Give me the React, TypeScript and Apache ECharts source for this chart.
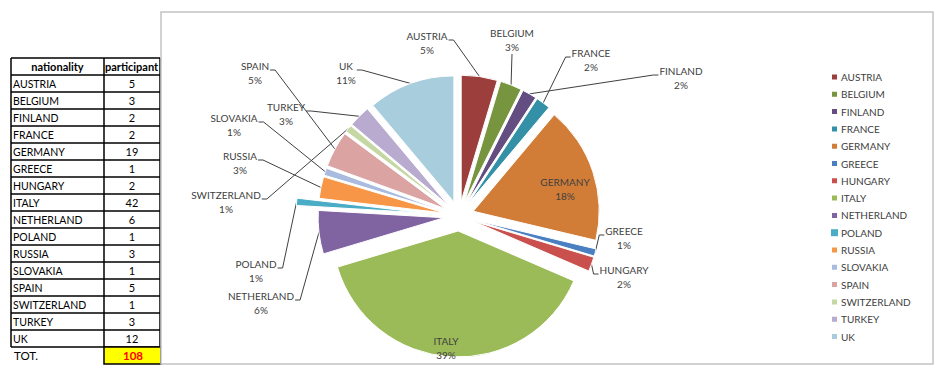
import React, { useEffect, useRef } from "react";
import * as echarts from "echarts";

const nationalities = ["AUSTRIA", "BELGIUM", "FINLAND", "FRANCE", "GERMANY", "GREECE", "HUNGARY", "ITALY", "NETHERLAND", "POLAND", "RUSSIA", "SLOVAKIA", "SPAIN", "SWITZERLAND", "TURKEY", "UK"];
const participants = [5, 3, 2, 2, 19, 1, 2, 42, 6, 1, 3, 1, 5, 1, 3, 12];
const sliceColors = ["#9C3F3C", "#77953F", "#644D80", "#3490A6", "#D27D37", "#4A7FC1", "#C9504D", "#9BBB59", "#8064A2", "#4BACC6", "#F79646", "#A9BCE0", "#DBA4A3", "#C5D8A4", "#B9AACF", "#A8CDDD"];
const insideLabels = ["GERMANY", "ITALY"];
// label anchor points (label layout only)
const labelAnchors: number[][] = [
  [427, 43], [512, 40], [681, 78], [591, 60], [565, 189], [624, 238], [624, 277], [446, 348],
  [261, 303], [256, 271], [240, 163], [234, 125], [255, 73], [226, 202], [286, 114], [346, 73],
];

const FONT = "Lato";
const CX = 459, CY = 216, R = 126, OFF = 15;
const extraExplode: Record<string, number> = { POLAND: 37 };

export default function App() {
  const ref = useRef<HTMLDivElement>(null);
  useEffect(() => {
    if (!ref.current) return;
    const chart = echarts.init(ref.current, undefined, { renderer: "svg" });
    const total = participants.reduce((a, b) => a + b, 0);
    const cum: number[] = [];
    let acc = 0;
    participants.forEach((v) => { cum.push(acc); acc += v; });

    // table graphics
    const tX0 = 11, tX1 = 104, tX2 = 160, tY0 = 58, rowH = 17;
    const g: any[] = [];
    const nRows = nationalities.length + 1;
    const tY1 = tY0 + nRows * rowH;
    for (let r = 0; r <= nRows; r++) {
      g.push({ type: "line", shape: { x1: tX0, y1: tY0 + r * rowH, x2: tX2, y2: tY0 + r * rowH }, style: { stroke: "#000", lineWidth: 1.5 } });
    }
    [tX0, tX1, tX2].forEach((x) => g.push({ type: "line", shape: { x1: x, y1: tY0, x2: x, y2: tY1 }, style: { stroke: "#000", lineWidth: 1.5 } }));
    g.push({ type: "text", style: { x: (tX0 + tX1) / 2, y: tY0 + rowH / 2, text: "nationality", font: `bold 11px ${FONT}`, fill: "#000", align: "center", verticalAlign: "middle" } });
    g.push({ type: "text", style: { x: tX1 + 1, y: tY0 + rowH / 2, text: "participant", font: `bold 11px ${FONT}`, fill: "#000", align: "left", verticalAlign: "middle" } });
    nationalities.forEach((n, i) => {
      const yc = tY0 + (i + 1) * rowH + rowH / 2;
      g.push({ type: "text", style: { x: tX0 + 2, y: yc, text: n, font: `10.5px ${FONT}`, fill: "#000", align: "left", verticalAlign: "middle" } });
      g.push({ type: "text", style: { x: (tX1 + tX2) / 2, y: yc, text: String(participants[i]), font: `11px ${FONT}`, fill: "#000", align: "center", verticalAlign: "middle" } });
    });
    g.push({ type: "rect", shape: { x: tX1, y: tY1, width: tX2 - tX1 + 1, height: rowH }, style: { fill: "#FFFF00", stroke: "#000", lineWidth: 1.5 } });
    g.push({ type: "text", style: { x: tX0 + 3, y: tY1 + rowH / 2, text: "TOT.", font: `11.5px ${FONT}`, fill: "#000", align: "left", verticalAlign: "middle" } });
    g.push({ type: "text", style: { x: (tX1 + tX2) / 2 + 1, y: tY1 + rowH / 2, text: String(total), font: `bold 11.5px ${FONT}`, fill: "#FF0000", align: "center", verticalAlign: "middle" } });
    // chart area box
    g.push({ type: "rect", shape: { x: 161, y: 12, width: 772, height: 352 }, style: { fill: "#fff", stroke: "#c4c4c4", lineWidth: 1.5 } });

    const hidden = { color: "rgba(0,0,0,0)", borderWidth: 0 };
    const sliceData = nationalities.map((n, i) => ({
      name: n,
      value: participants[i],
      selected: true,
      itemStyle: extraExplode[n] ? hidden : { color: sliceColors[i] },
    }));
    const labelData = nationalities.map((n, i) => ({
      name: n,
      value: participants[i],
      labelLine: { show: !insideLabels.includes(n) },
    }));
    const baseSlice = {
      type: "pie",
      center: [CX, CY],
      radius: R,
      startAngle: 90,
      clockwise: true,
      selectedMode: "multiple",
      itemStyle: { borderColor: "#fff", borderWidth: 1 },
      emphasis: { disabled: true },
      label: { show: false },
      labelLine: { show: false },
    };
    const extraSeries = Object.keys(extraExplode).map((key) => ({
      ...baseSlice,
      name: "explode-" + key,
      selectedOffset: extraExplode[key],
      data: nationalities.map((n, i) => ({
        name: n,
        value: participants[i],
        selected: n === key,
        itemStyle: n === key ? { color: sliceColors[i] } : hidden,
      })),
    }));

    chart.setOption({
      animation: false,
      graphic: g,
      legend: {
        orient: "vertical",
        left: 825,
        top: 67,
        itemWidth: 7,
        itemHeight: 7,
        itemGap: 7.3,
        icon: "rect",
        selectedMode: false,
        textStyle: { fontFamily: FONT, fontSize: 10, color: "#404040", lineHeight: 10, padding: [0, 0, 0, -2] },
        data: nationalities.map((n, i) => ({ name: n, itemStyle: { color: sliceColors[i] } })),
      },
      series: [
        { ...baseSlice, name: "slices", selectedOffset: OFF, data: sliceData },
        ...extraSeries,
        {
          type: "pie",
          name: "labels",
          center: [CX, CY],
          radius: R,
          startAngle: 90,
          clockwise: true,
          silent: true,
          selectedMode: false,
          avoidLabelOverlap: false,
          emphasis: { disabled: true },
          itemStyle: { color: "rgba(0,0,0,0)", borderWidth: 0 },
          label: {
            show: true,
            position: "outside",
            formatter: (p: any) => `${p.name}\n${Math.round((p.value / total) * 100)}%`,
            fontFamily: FONT,
            fontSize: 10,
            lineHeight: 14,
            color: "#404040",
            align: "center",
          },
          labelLine: { show: true, lineStyle: { color: "#404040", width: 1 } },
          labelLayout: (params: any) => {
            const i = params.dataIndex;
            const [lx, ly] = labelAnchors[i];
            const w = params.labelRect.width, h = params.labelRect.height;
            if (insideLabels.includes(nationalities[i])) {
              return { x: lx, y: ly, align: "center", verticalAlign: "middle" };
            }
            const off = extraExplode[nationalities[i]] ?? OFF;
            const mid = ((cum[i] + participants[i] / 2) / total) * Math.PI * 2;
            const start = [CX + (R + off) * Math.sin(mid), CY - (R + off) * Math.cos(mid)];
            let end: number[], elbow: number[];
            if (Math.abs(start[0] - lx) < w / 2) {
              const ey = start[1] > ly ? ly + h / 2 : ly - h / 2;
              end = [lx, ey];
              elbow = [lx, ey];
            } else if (start[0] > lx) {
              end = [lx + w / 2 + 1, ly - 3];
              elbow = [end[0] + 5, end[1]];
            } else {
              end = [lx - w / 2 - 1, ly - 3];
              elbow = [end[0] - 5, end[1]];
            }
            return { x: lx, y: ly, align: "center", verticalAlign: "middle", labelLinePoints: [start, elbow, end] };
          },
          data: labelData,
        },
      ],
    });
    return () => chart.dispose();
  }, []);
  return <div ref={ref} style={{ position: "absolute", left: 0, top: 0, width: 938, height: 373, background: "#fff" }} />;
}
